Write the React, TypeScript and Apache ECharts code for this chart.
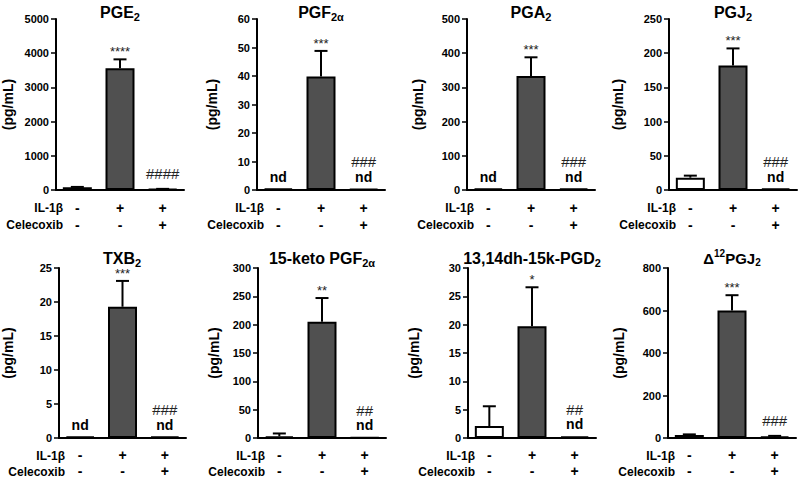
import React, { useEffect, useRef } from "react";
import * as echarts from "echarts";

// ---- data ----
const titles = [
  "PGE{s|2}",
  "PGF{s|2α}",
  "PGA{s|2}",
  "PGJ{s|2}",
  "TXB{s|2}",
  "15-keto PGF{s|2α}",
  "13,14dh-15k-PGD{s|2}",
  "Δ{p|12}PGJ{s|2}",
];
const groups = ["-\n-", "+\n-", "+\n+"]; // IL-1β / Celecoxib
const rowLabels = ["IL-1β", "Celecoxib"];
const yMax = [5000, 60, 500, 250, 25, 300, 30, 800];
const yStep = [1000, 10, 100, 50, 5, 50, 5, 200];
const meanValues = [
  [80, 3560, 25],
  [0.5, 39.8, 0.4],
  [4, 333, 4],
  [18, 182, 2],
  [0.2, 19.3, 0.2],
  [3, 205, 1],
  [2.1, 19.7, 0.3],
  [14, 600, 6],
];
const errorValues = [
  [10, 260, 8],
  [0, 9, 0],
  [0, 55, 0],
  [3, 25, 0],
  [0, 3.8, 0],
  [5, 42, 0],
  [3.5, 6.9, 0],
  [3, 72, 4],
];
const sigMarks = [
  ["", "****", "####"],
  ["", "***", "###"],
  ["", "***", "###"],
  ["", "***", "###"],
  ["", "***", "###"],
  ["", "**", "##"],
  ["", "*", "##"],
  ["", "***", "###"],
];
const notDetected = [
  [false, false, false],
  [true, false, true],
  [true, false, true],
  [false, false, true],
  [true, false, true],
  [false, false, true],
  [false, false, true],
  [false, false, false],
];

// ---- layout (styles only) ----
const FONT = '"Liberation Sans", Arial, sans-serif';
const gridLeft = [56, 257, 467, 669, 58, 258, 468, 668];
const rowTop = [19, 268];
const plotW = 128;
const plotH = 171;
const nameGaps = [41, 38, 42, 44, 44, 37, 47, 42];
const titleSizes = [16, 16, 16, 16, 16, 16, 16, 15];
const rowOffsets = [
  [17.5, 35],
  [17, 33],
];
const DARK = "#505050";

export default function App() {
  const ref = useRef<HTMLDivElement>(null);
  useEffect(() => {
    document.body.style.margin = "0";
    const chart = echarts.init(ref.current!, null, { renderer: "svg" });
    const grids: any[] = [];
    const xAxes: any[] = [];
    const yAxes: any[] = [];
    const series: any[] = [];
    const graphics: any[] = [];

    for (let p = 0; p < 8; p++) {
      const row = p < 4 ? 0 : 1;
      const top = rowTop[row];
      const left = gridLeft[p];
      const zeroY = top + plotH;
      const offs = rowOffsets[row];
      grids.push({ left, top, width: plotW, height: plotH, containLabel: false });
      xAxes.push({
        type: "category",
        gridIndex: p,
        data: groups,
        axisLine: { lineStyle: { color: "#000", width: 2 } },
        axisTick: { alignWithLabel: true, length: 5, lineStyle: { color: "#000", width: 1.5 } },
        axisLabel: {
          interval: 0,
          color: "#000",
          fontFamily: FONT,
          fontWeight: "bold",
          fontSize: 14,
          lineHeight: offs[1] - offs[0],
          margin: offs[0] - (offs[1] - offs[0]) / 2,
        },
      });
      yAxes.push({
        type: "value",
        gridIndex: p,
        min: 0,
        max: yMax[p],
        interval: yStep[p],
        splitLine: { show: false },
        axisLine: { show: true, lineStyle: { color: "#000", width: 2 } },
        axisTick: { show: true, length: 5, lineStyle: { color: "#000", width: 1.5 } },
        axisLabel: {
          color: "#000",
          fontFamily: FONT,
          fontWeight: "bold",
          fontSize: 11,
          margin: 7,
          formatter: (v: number) => String(v),
        },
        name: "(pg/mL)",
        nameLocation: "middle",
        nameGap: nameGaps[p],
        nameTextStyle: { color: "#000", fontFamily: FONT, fontWeight: "bold", fontSize: 14 },
      });
      series.push({
        type: "bar",
        xAxisIndex: p,
        yAxisIndex: p,
        barWidth: 29,
        data: meanValues[p].map((v, i) => ({
          value: v,
          itemStyle: { color: i === 0 ? "#fff" : DARK, borderColor: "#000", borderWidth: 2 },
        })),
      });
      const errs = errorValues[p];
      series.push({
        type: "custom",
        xAxisIndex: p,
        yAxisIndex: p,
        z: 3,
        data: meanValues[p].map((m, i) => [i, m, m + errs[i]]),
        renderItem: (params: any, api: any) => {
          if (api.value(2) <= api.value(1)) return null;
          const base = api.coord([api.value(0), api.value(1)]);
          const tp = api.coord([api.value(0), api.value(2)]);
          const st = { stroke: "#000", lineWidth: 2 };
          return {
            type: "group",
            children: [
              { type: "line", shape: { x1: base[0], y1: base[1], x2: base[0], y2: tp[1] }, style: st },
              { type: "line", shape: { x1: base[0] - 6.5, y1: tp[1], x2: base[0] + 6.5, y2: tp[1] }, style: st },
            ],
          };
        },
      });
      const marks = sigMarks[p];
      const nd = notDetected[p];
      series.push({
        type: "custom",
        xAxisIndex: p,
        yAxisIndex: p,
        z: 4,
        data: meanValues[p].map((m, i) => [i, m + errs[i]]),
        renderItem: (params: any, api: any) => {
          const i = params.dataIndex;
          const c = api.coord([api.value(0), api.value(1)]);
          const children: any[] = [];
          if (nd[i]) {
            children.push({
              type: "text",
              x: c[0],
              y: c[1] - 12,
              style: { text: "nd", fill: "#000", font: `bold 14px ${FONT}`, align: "center", verticalAlign: "middle" },
            });
          }
          const mk = marks[i];
          if (mk) {
            if (mk.startsWith("*")) {
              children.push({
                type: "text",
                x: c[0],
                y: c[1] - 1,
                style: { text: mk, fill: "#222", font: `13px ${FONT}`, align: "center", verticalAlign: "bottom" },
              });
            } else {
              children.push({
                type: "text",
                x: c[0],
                y: c[1] - (nd[i] ? 27 : 15),
                style: { text: mk, fill: "#222", font: `15px ${FONT}`, align: "center", verticalAlign: "middle" },
              });
            }
          }
          return { type: "group", children };
        },
      });
      // title
      const ts = titleSizes[p];
      const ss = Math.round(ts * 0.68);
      graphics.push({
        type: "text",
        x: left + plotW / 2,
        y: row === 0 ? 12 : 258,
        style: {
          text: titles[p],
          fill: "#000",
          font: `bold ${ts}px ${FONT}`,
          align: "center",
          verticalAlign: "middle",
          lineHeight: ts + 4,
          rich: {
            s: { fontSize: ss, fontWeight: "bold", fontFamily: FONT, verticalAlign: "bottom", lineHeight: ss },
            p: { fontSize: ss, fontWeight: "bold", fontFamily: FONT, verticalAlign: "top", lineHeight: ss },
          },
        },
      });
      rowLabels.forEach((lab, r) => {
        graphics.push({
          type: "text",
          x: left + 7,
          y: zeroY + offs[r],
          style: { text: lab, fill: "#000", font: `bold 12px ${FONT}`, align: "right", verticalAlign: "middle" },
        });
      });
    }

    chart.setOption({
      animation: false,
      backgroundColor: "#fff",
      grid: grids,
      xAxis: xAxes,
      yAxis: yAxes,
      series,
      graphic: graphics,
    });
    return () => chart.dispose();
  }, []);
  return <div ref={ref} style={{ width: 800, height: 479 }} />;
}
